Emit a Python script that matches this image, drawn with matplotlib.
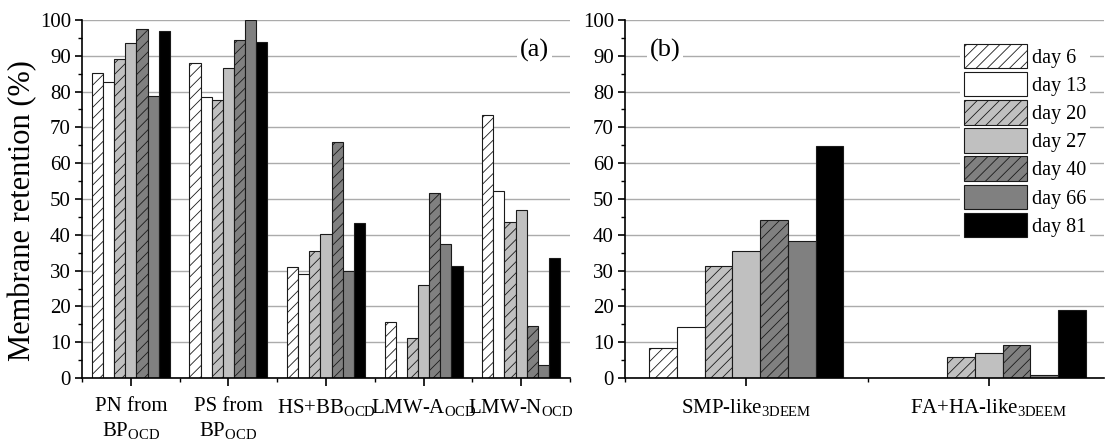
import matplotlib
matplotlib.use('Agg')
import matplotlib.pyplot as plt
import numpy as np
from matplotlib.patches import Patch
from matplotlib.ticker import MultipleLocator, FixedLocator

plt.rcParams['font.family'] = ['Liberation Serif', 'DejaVu Serif']
plt.rcParams['mathtext.fontset'] = 'custom'
plt.rcParams['mathtext.rm'] = 'Liberation Serif'
plt.rcParams['mathtext.it'] = 'Liberation Serif:italic'
plt.rcParams['mathtext.bf'] = 'Liberation Serif:bold'
plt.rcParams['hatch.linewidth'] = 0.6
plt.rcParams['hatch.color'] = '#111111'

days = ['day 6', 'day 13', 'day 20', 'day 27', 'day 40', 'day 66', 'day 81']

cats_a = ['PN from\nBP$_{\\mathrm{OCD}}$', 'PS from\nBP$_{\\mathrm{OCD}}$',
          'HS+BB$_{\\mathrm{OCD}}$', 'LMW-A$_{\\mathrm{OCD}}$', 'LMW-N$_{\\mathrm{OCD}}$']
cats_b = ['SMP-like$_{\\mathrm{3DEEM}}$', 'FA+HA-like$_{\\mathrm{3DEEM}}$']

# panel (a) values per day (one value per category)
a_day6 = [85.1, 87.9, 31.0, 15.6, 73.4]
a_day13 = [82.7, 78.5, 29.1, 0.0, 52.3]
a_day20 = [89.0, 77.6, 35.6, 11.3, 43.7]
a_day27 = [93.5, 86.5, 40.3, 25.9, 46.9]
a_day40 = [97.4, 94.4, 66.0, 51.8, 14.5]
a_day66 = [78.9, 100.0, 29.8, 37.5, 3.5]
a_day81 = [96.9, 93.9, 43.3, 31.4, 33.6]

# panel (b) values per day
b_day6 = [8.5, 0.0]
b_day13 = [14.2, 0.0]
b_day20 = [31.3, 5.8]
b_day27 = [35.5, 6.9]
b_day40 = [44.0, 9.3]
b_day66 = [38.3, 0.7]
b_day81 = [64.9, 19.1]

a_series = [a_day6, a_day13, a_day20, a_day27, a_day40, a_day66, a_day81]
b_series = [b_day6, b_day13, b_day20, b_day27, b_day40, b_day66, b_day81]

facecolors = ['white', 'white', '#c0c0c0', '#c0c0c0', '#808080', '#808080', 'black']
hatches = ['///', None, '///', None, '///', None, None]
edge = '#1a1a1a'

fig = plt.figure(figsize=(11.06, 4.41), dpi=100)
ax_a = fig.add_axes([82 / 1106, 63 / 441, 488 / 1106, 358 / 441])
ax_b = fig.add_axes([625 / 1106, 63 / 441, 479 / 1106, 358 / 441])

group_w = 0.8
nser = len(days)
bw = group_w / nser


def draw(ax, series, cats, xmax):
    x = np.arange(len(cats))
    for i, vals in enumerate(series):
        off = -group_w / 2 + bw * (i + 0.5)
        ax.bar(x + off, vals, width=bw, color=facecolors[i], hatch=hatches[i],
               edgecolor=edge, linewidth=0.8, label=days[i], zorder=2)
    ax.set_xlim(-0.5, xmax)
    ax.set_ylim(0, 100)
    ax.yaxis.set_major_locator(MultipleLocator(10))
    ax.yaxis.set_minor_locator(MultipleLocator(5))
    ax.set_xticks(x)
    ax.set_xticklabels(cats, fontsize=15, linespacing=1.2)
    ax.xaxis.set_minor_locator(FixedLocator(np.arange(-0.5, len(cats), 1.0)))
    ax.tick_params(axis='y', which='major', length=5, width=1.2, labelsize=15, pad=3)
    ax.tick_params(axis='y', which='minor', length=3, width=1.0)
    ax.tick_params(axis='x', which='major', length=6, width=1.2, pad=8)
    ax.tick_params(axis='x', which='minor', length=3, width=1.0)
    ax.grid(axis='y', which='major', color='#ababab', linewidth=1.0, zorder=0)
    ax.set_axisbelow(True)
    for s in ['top', 'right']:
        ax.spines[s].set_visible(False)
    for s in ['left', 'bottom']:
        ax.spines[s].set_linewidth(1.2)
        ax.spines[s].set_zorder(3)


draw(ax_a, a_series, cats_a, 4.5)
draw(ax_b, b_series, cats_b, 1.475)

ax_a.set_ylabel('Membrane retention (%)', fontsize=22)
ax_a.yaxis.set_label_coords(-0.092, 0.469)

ax_a.text(0.928, 0.915, '(a)', transform=ax_a.transAxes, fontsize=19,
          ha='center', va='center', zorder=5,
          bbox=dict(facecolor='white', edgecolor='none', pad=2))
ax_b.text(0.0835, 0.915, '(b)', transform=ax_b.transAxes, fontsize=19,
          ha='center', va='center', zorder=5,
          bbox=dict(facecolor='white', edgecolor='none', pad=2))

handles = [Patch(facecolor=facecolors[i], hatch=hatches[i], edgecolor=edge,
                 linewidth=0.8, label=days[i]) for i in range(nser)]
leg = ax_b.legend(handles=handles, loc='upper left', bbox_to_anchor=(0.70, 0.945),
                  fontsize=14.5, handlelength=3.1, handleheight=1.5,
                  labelspacing=0.18, handletextpad=0.25, borderpad=0.2,
                  borderaxespad=0.0, frameon=True, fancybox=False,
                  framealpha=1.0, facecolor='white', edgecolor='none')
leg.set_zorder(5)

fig.savefig('out.png', dpi=100)
